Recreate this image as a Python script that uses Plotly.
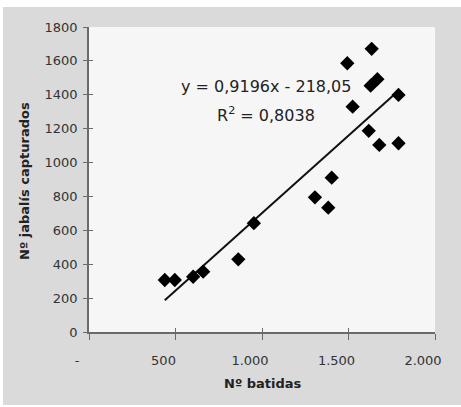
import numpy as np
import plotly.graph_objects as go

# Data
batidas = [438, 496, 602, 660, 863, 953, 1306, 1383, 1403, 1493, 1524, 1617, 1628, 1634, 1667, 1678, 1789, 1789]
jabalis = [307, 307, 326, 356, 429, 642, 795, 734, 911, 1586, 1330, 1187, 1454, 1671, 1492, 1104, 1399, 1114]

x_tickvals = [0, 500, 1000, 1500, 2000]
x_ticktext = ["-", "500", "1.000", "1.500", "2.000"]
y_tickvals = [0, 200, 400, 600, 800, 1000, 1200, 1400, 1600, 1800]
y_ticktext = ["0", "200", "400", "600", "800", "1000", "1200", "1400", "1600", "1800"]

eq_text = "y = 0,9196x - 218,05"
r2_text = "R<sup>2</sup> = 0,8038"
x_title = "Nº batidas"
y_title = "Nº jabalís capturados"

# Linear trend line fitted from the data
slope, intercept = np.polyfit(batidas, jabalis, 1)
trend_x = np.array([min(batidas), max(batidas)])
trend_y = slope * trend_x + intercept

FONT = "DejaVu Sans"
AXIS_COL = "#6a6a6a"
TXT = "#333333"

fig = go.Figure()
fig.add_trace(go.Scatter(x=trend_x, y=trend_y, mode="lines",
                         line=dict(color="#111111", width=2), showlegend=False, hoverinfo="skip"))
fig.add_trace(go.Scatter(x=batidas, y=jabalis, mode="markers",
                         marker=dict(symbol="diamond", size=11, color="#000000"),
                         showlegend=False))
# invisible trace for overlay axes (inner half of crossing ticks)
fig.add_trace(go.Scatter(x=[0], y=[0], xaxis="x2", yaxis="y2", mode="markers",
                         marker=dict(opacity=0), showlegend=False, hoverinfo="skip"))

# figure placed at (3, 7) in the page, leaving white strips like the reference
OX, OY = 3, 7
W, H = 458, 398
l, r, t, b = 89 - OX, 26, 27 - OY, 73
pw, ph = W - l - r, H - t - b

def px2paper_x(px):
    return (px - OX - l) / pw

def px2paper_y(py):
    return (OY + H - b - py) / ph

fig.update_layout(
    width=W, height=H,
    margin=dict(l=l, r=r, t=t, b=b, pad=0),
    paper_bgcolor="#dadada",
    plot_bgcolor="#f6f6f6",
    font=dict(family=FONT, size=13, color=TXT),
    xaxis=dict(range=[0, 2000], tickvals=x_tickvals, ticktext=x_ticktext,
               showgrid=False, zeroline=False, showline=True, linecolor=AXIS_COL, linewidth=1.5,
               ticks="outside", ticklen=6, tickcolor=AXIS_COL, tickwidth=1.2,
               ticklabelshift=-12, ticklabelstandoff=10,
               tickfont=dict(family=FONT, size=13, color=TXT)),
    yaxis=dict(range=[0, 1800], tickvals=y_tickvals, ticktext=y_ticktext,
               showgrid=False, zeroline=False, showline=True, linecolor=AXIS_COL, linewidth=1.5,
               ticks="outside", ticklen=4, tickcolor=AXIS_COL, tickwidth=1.2,
               ticklabelstandoff=3,
               tickfont=dict(family=FONT, size=13, color=TXT)),
    xaxis2=dict(range=[0, 2000], overlaying="x", anchor="y2", tickvals=x_tickvals,
                showticklabels=False, showgrid=False, zeroline=False, showline=False,
                ticks="inside", ticklen=4, tickcolor=AXIS_COL, tickwidth=1.2),
    yaxis2=dict(range=[0, 1800], overlaying="y", anchor="x2", tickvals=y_tickvals,
                showticklabels=False, showgrid=False, zeroline=False, showline=False,
                ticks="inside", ticklen=4, tickcolor=AXIS_COL, tickwidth=1.2),
    annotations=[
        dict(text=eq_text, x=1022, y=1446, xref="x", yref="y", showarrow=False,
             xanchor="center", yanchor="middle", font=dict(family=FONT, size=16, color="#222222")),
        dict(text=r2_text, x=1022, y=1281, xref="x", yref="y", showarrow=False,
             xanchor="center", yanchor="middle", font=dict(family=FONT, size=16, color="#222222")),
        dict(text="<b>" + x_title + "</b>", x=px2paper_x(263), y=px2paper_y(383),
             xref="paper", yref="paper", showarrow=False, xanchor="center", yanchor="middle",
             font=dict(family=FONT, size=13, color="#222222")),
        dict(text="<b>" + y_title + "</b>", x=px2paper_x(25), y=px2paper_y(181),
             xref="paper", yref="paper", showarrow=False, xanchor="center", yanchor="middle",
             textangle=-90, font=dict(family=FONT, size=13, color="#222222")),
    ],
)

fig.write_html(
    "out.html",
    config={"displayModeBar": False},
    post_script="document.body.style.margin='0';document.body.style.padding='7px 0 0 3px';"
                "document.body.style.background='#ffffff';",
)
